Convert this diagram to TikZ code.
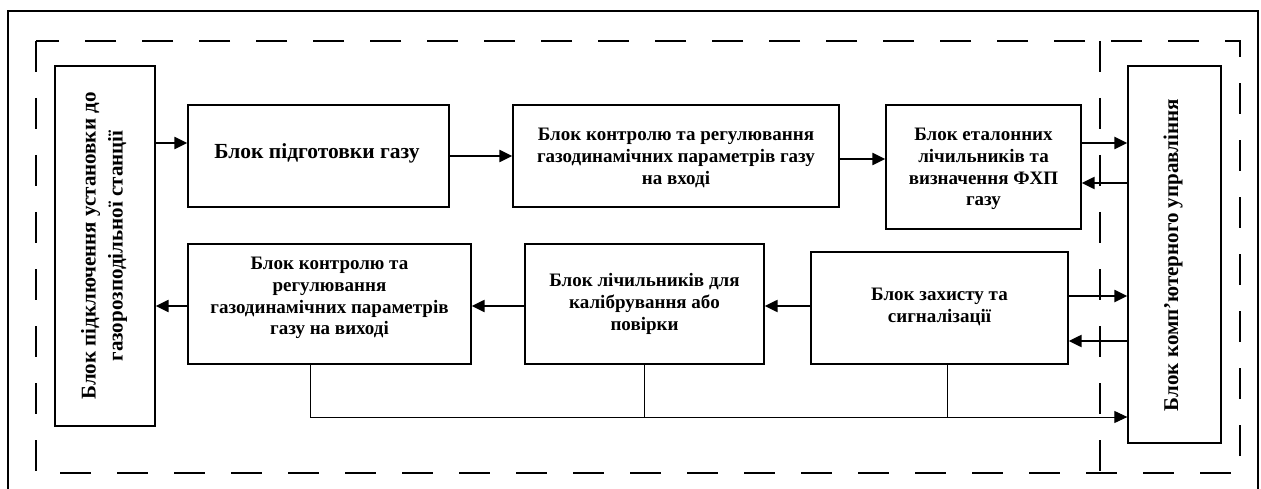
\documentclass[tikz,border=0pt]{standalone}
\usepackage{fontspec}
\setmainfont{Liberation Serif}
\usetikzlibrary{arrows.meta}
\begin{document}
\begin{tikzpicture}[x=1pt,y=-1pt,
  blk/.style={draw, line width=1.3pt, inner sep=0pt},
  txt/.style={align=center, font=\bfseries\fontsize{19}{21.7}\selectfont, inner sep=0pt},
  rtxt/.style={align=center, rotate=90, font=\bfseries\fontsize{21}{27}\selectfont, inner sep=0pt},
  arr/.style={line width=2.2pt, -{Triangle[length=13pt,width=12pt]}},
  bus/.style={line width=1pt, -{Triangle[length=13pt,width=12pt]}},
  busline/.style={line width=1pt},
  dashbox/.style={line width=1.2pt, dash pattern=on 31pt off 26pt}]
\useasboundingbox (0,0) rectangle (1261,489);
\fill[white] (0,0) rectangle (1261,489);
\draw[line width=1.2pt] (8,489) -- (8,11) -- (1258,11) -- (1258,489);
\draw[dashbox] (36,41) rectangle (1240,473);
\draw[dashbox] (1100,41) -- (1100,473);
% boxes
\node[blk, minimum width=100pt, minimum height=360pt] (L) at (105,246) {};
\node[rtxt] (Lt) at (104,246) {Блок підключення установки до\\газорозподільної станції};
\node[blk, minimum width=261pt, minimum height=102pt] (P) at (318.5,156) {};
\node[txt, font=\bfseries\fontsize{21.5}{24}\selectfont] (Pt) at (317,153) {Блок підготовки газу};
\node[blk, minimum width=326pt, minimum height=102pt] (CI) at (676,156) {};
\node[txt] (CIt) at (676,158) {Блок контролю та регулювання\\газодинамічних параметрів газу\\на вході};
\node[blk, minimum width=195pt, minimum height=124pt] (E) at (983.5,167) {};
\node[txt] (Et) at (983.5,169) {Блок еталонних\\лічильників та\\визначення ФХП\\газу};
\node[blk, minimum width=93pt, minimum height=377pt] (R) at (1174.5,254.5) {};
\node[rtxt] (Rt) at (1173,255) {Блок комп'ютерного управління};
\node[blk, minimum width=283pt, minimum height=120pt] (CO) at (329.5,304) {};
\node[txt] (COt) at (329.5,298) {Блок контролю та\\регулювання\\газодинамічних параметрів\\газу на виході};
\node[blk, minimum width=239pt, minimum height=120pt] (M) at (644.5,304) {};
\node[txt] (Mt) at (644.5,304) {Блок лічильників для\\калібрування або\\повірки};
\node[blk, minimum width=257pt, minimum height=112pt] (Z) at (939.5,308) {};
\node[txt] (Zt) at (939.5,307) {Блок захисту та\\сигналізації};
% arrows
\draw[arr] (L.east |- 0,143) -- (P.west |- 0,143);
\draw[arr] (P.east |- 0,156) -- (CI.west |- 0,156);
\draw[arr] (CI.east |- 0,159) -- (E.west |- 0,159);
\draw[arr] (E.east |- 0,143) -- (R.west |- 0,143);
\draw[arr] (R.west |- 0,183) -- (E.east |- 0,183);
\draw[arr] (Z.east |- 0,296) -- (R.west |- 0,296);
\draw[arr] (R.west |- 0,341) -- (Z.east |- 0,341);
\draw[arr] (Z.west |- 0,306) -- (M.east |- 0,306);
\draw[arr] (M.west |- 0,306) -- (CO.east |- 0,306);
\draw[arr] (CO.west |- 0,306) -- (L.east |- 0,306);
% bus
\coordinate (b1) at (CO.south -| 310,0);
\coordinate (b2) at (M.south -| 644,0);
\coordinate (b3) at (Z.south -| 947,0);
\draw[bus] (b1) -- (b1 |- 0,417) -- (R.west |- 0,417);
\draw[busline] (b2) -- (b2 |- 0,417);
\draw[busline] (b3) -- (b3 |- 0,417);
\end{tikzpicture}
\end{document}
